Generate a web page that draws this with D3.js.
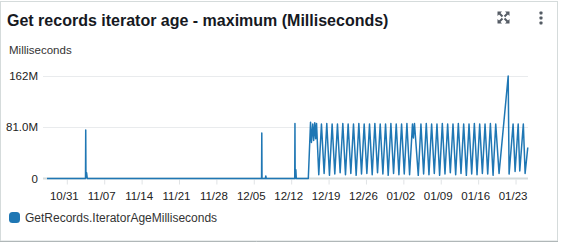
<!DOCTYPE html>
<html>
<head>
<meta charset="utf-8">
<script src="https://cdn.jsdelivr.net/npm/d3@7"></script>
<style>
  body { margin: 0; background: #fff; font-family: "Liberation Sans", Arial, sans-serif; }
  svg { display: block; }
</style>
</head>
<body>
<div id="chart"></div>
<script>
/* global d3 */

// Data (iterator age, millions of ms)
let times = [
    "2019-10-27 07:00", "2019-11-03 12:00", "2019-11-03 13:00", "2019-11-03 14:00", "2019-11-03 17:00", "2019-11-03 20:00",
    "2019-12-06 11:00", "2019-12-06 12:00", "2019-12-06 13:00", "2019-12-07 04:00", "2019-12-07 06:00", "2019-12-07 08:00",
    "2019-12-12 16:00", "2019-12-12 17:00", "2019-12-12 18:00", "2019-12-12 21:00", "2019-12-12 23:00",
    "2019-12-15 05:00", "2019-12-15 15:00", "2019-12-15 19:00", "2019-12-16 01:00", "2019-12-16 05:00", "2019-12-16 10:00", "2019-12-16 14:00", "2019-12-16 18:00",
    "2019-12-17 04:00", "2019-12-17 16:00", "2019-12-18 04:00", "2019-12-18 16:00", "2019-12-19 04:00", "2019-12-19 16:00",
    "2019-12-20 04:00", "2019-12-20 16:00", "2019-12-21 04:00", "2019-12-21 16:00", "2019-12-22 04:00", "2019-12-22 16:00",
    "2019-12-23 04:00", "2019-12-23 16:00", "2019-12-24 04:00", "2019-12-24 16:00", "2019-12-25 04:00", "2019-12-25 16:00",
    "2019-12-26 04:00", "2019-12-26 16:00", "2019-12-27 04:00", "2019-12-27 16:00", "2019-12-28 04:00", "2019-12-28 16:00",
    "2019-12-29 04:00", "2019-12-29 16:00", "2019-12-30 04:00", "2019-12-30 16:00", "2019-12-31 04:00", "2019-12-31 16:00",
    "2020-01-01 04:00", "2020-01-01 16:00", "2020-01-02 04:00", "2020-01-02 16:00", "2020-01-03 04:00",
    "2020-01-03 17:00", "2020-01-03 21:00", "2020-01-04 02:00", "2020-01-04 08:00", "2020-01-04 19:00",
    "2020-01-05 07:00", "2020-01-05 19:00", "2020-01-06 07:00", "2020-01-06 19:00", "2020-01-07 07:00", "2020-01-07 19:00",
    "2020-01-08 07:00", "2020-01-08 19:00", "2020-01-09 07:00", "2020-01-09 19:00", "2020-01-10 07:00", "2020-01-10 19:00",
    "2020-01-11 07:00", "2020-01-11 19:00", "2020-01-12 07:00", "2020-01-12 19:00", "2020-01-13 07:00", "2020-01-13 19:00",
    "2020-01-14 07:00", "2020-01-14 19:00", "2020-01-15 07:00", "2020-01-15 19:00", "2020-01-16 07:00", "2020-01-16 19:00",
    "2020-01-17 07:00", "2020-01-17 19:00", "2020-01-18 07:00", "2020-01-18 19:00", "2020-01-19 07:00", "2020-01-19 22:00",
    "2020-01-21 15:00", "2020-01-21 19:00", "2020-01-22 13:00", "2020-01-22 22:00", "2020-01-23 12:00", "2020-01-23 19:00",
    "2020-01-24 11:00", "2020-01-24 19:00", "2020-01-25 07:00"
];

let ageMillions = [
    0, 0, 76.5, 2, 9, 0,
    0, 72, 0, 0, 4, 0,
    0, 87, 0, 14, 0,
    0, 89, 57, 86, 60, 88, 63, 87,
    6, 86, 8, 87, 5, 86,
    7, 86, 9, 87, 6, 86,
    8, 86, 5, 87, 7, 86,
    8, 86, 6, 87, 9, 86,
    7, 86, 5, 87, 8, 86,
    6, 86, 7, 87, 6,
    86, 64, 87, 58, 5,
    86, 7, 87, 6, 86, 8,
    86, 5, 87, 7, 86, 9,
    86, 6, 87, 8, 86, 5,
    86, 7, 87, 6, 86, 8,
    86, 7, 87, 5, 86, 8,
    162, 7, 86, 11, 86, 12,
    86, 8, 49
];

let domainStart = "2019-10-27 07:00";
let domainEnd = "2020-01-25 08:00";

let tickDates = ["2019-10-31", "2019-11-07", "2019-11-14", "2019-11-21", "2019-11-28", "2019-12-05",
    "2019-12-12", "2019-12-19", "2019-12-26", "2020-01-02", "2020-01-09", "2020-01-16", "2020-01-23"];

let yTicks = [0, 81, 162];
let yTickLabels = ["0", "81.0M", "162M"];

let seriesName = "GetRecords.IteratorAgeMilliseconds";
let lineColor = "#1f77b4";

// Chart setup //

let SVGwidth = 563,
SVGheight = 243,
margin = {top: 76, right: 35, bottom: 65, left: 47},
width = SVGwidth - margin.left - margin.right,
height = 178.5 - margin.top;

let parseTime = d3.timeParse("%Y-%m-%d %H:%M");
let parseDay = d3.timeParse("%Y-%m-%d");
let fmtDay = d3.timeFormat("%m/%d");

let data = times.map(function(t, i) {
    return {date: parseTime(t), value: ageMillions[i]};
});

let svg = d3.select("#chart").append("svg")
    .attr("width", SVGwidth)
    .attr("height", SVGheight);

// panel frame
svg.append("rect")
    .attr("x", 0.5)
    .attr("y", 1.5)
    .attr("width", 557)
    .attr("height", 239.5)
    .style("fill", "#fff")
    .style("stroke", "#d5dbdb");

svg.append("line")
    .attr("x1", 0).attr("x2", 558)
    .attr("y1", 241.5).attr("y2", 241.5)
    .style("stroke", "#b0b7b8");

svg.append("text")
    .attr("x", 7)
    .attr("y", 26)
    .style("font-size", "16px")
    .style("font-weight", "bold")
    .style("fill", "#16191f")
    .text("Get records iterator age - maximum (Milliseconds)");

// expand icon: four arrows pointing out to the corners
let icon = svg.append("g")
    .attr("transform", "translate(503.5,17.5)")
    .style("fill", "#545b64")
    .style("stroke", "#545b64");
[[-1, -1], [1, -1], [-1, 1], [1, 1]].forEach(function(s) {
    icon.append("path")
        .attr("d", "M" + (s[0] * 1) + "," + (s[1] * 1) + "L" + (s[0] * 4) + "," + (s[1] * 4))
        .style("stroke-width", 2)
        .style("fill", "none");
    icon.append("path")
        .attr("d", "M" + (s[0] * 6) + "," + (s[1] * 6) + "L" + (s[0] * 1.5) + "," + (s[1] * 6) + "L" + (s[0] * 6) + "," + (s[1] * 1.5) + "Z")
        .style("stroke", "none");
});

// menu dots
svg.selectAll(".dot")
    .data([13, 18, 23])
    .enter().append("rect")
    .attr("class", "dot")
    .attr("x", 539.5)
    .attr("y", function(d) { return d - 1.5; })
    .attr("width", 3)
    .attr("height", 3)
    .attr("rx", 0.8)
    .style("fill", "#545b64");

svg.append("text")
    .attr("x", 9)
    .attr("y", 54)
    .style("font-size", "11.5px")
    .style("fill", "#333")
    .text("Milliseconds");

let xScale = d3.scaleTime()
    .domain([parseTime(domainStart), parseTime(domainEnd)])
    .range([margin.left, margin.left + width]);

let yScale = d3.scaleLinear()
    .domain([0, 162])
    .range([178.5, margin.top]);

// grid lines
svg.selectAll(".grid")
    .data(yTicks.slice(1))
    .enter().append("line")
    .attr("class", "grid")
    .attr("x1", 43)
    .attr("x2", margin.left + width)
    .attr("y1", function(d) { return Math.round(yScale(d)) + 0.5; })
    .attr("y2", function(d) { return Math.round(yScale(d)) + 0.5; })
    .style("stroke", "#e9ebed");

svg.append("line")
    .attr("x1", 43)
    .attr("x2", margin.left + width)
    .attr("y1", yScale(0))
    .attr("y2", yScale(0))
    .style("stroke", "#d5dbdb")
    .style("stroke-width", 2);

let xAxis = d3.axisBottom(xScale)
    .tickValues(tickDates.map(parseDay))
    .tickFormat(fmtDay)
    .tickSizeInner(5)
    .tickSizeOuter(0)
    .tickPadding(7);

let gx = svg.append("g")
    .attr("class", "xAxis")
    .attr("transform", "translate(0," + 179.5 + ")")
    .call(xAxis);
gx.select(".domain").remove();
gx.selectAll(".tick line").style("stroke", "#e0e3e5");
gx.selectAll(".tick text")
    .attr("dx", -3)
    .style("font-family", "Liberation Sans, Arial, sans-serif")
    .style("font-size", "11.5px")
    .style("fill", "#222");

let yAxis = d3.axisLeft(yScale)
    .tickValues(yTicks)
    .tickFormat(function(d, i) { return yTickLabels[i]; })
    .tickSize(0)
    .tickPadding(9);

let gy = svg.append("g")
    .attr("class", "yAxis")
    .attr("transform", "translate(" + margin.left + ",0)")
    .call(yAxis);
gy.select(".domain").remove();
gy.selectAll(".tick text")
    .style("font-family", "Liberation Sans, Arial, sans-serif")
    .style("font-size", "11.5px")
    .style("fill", "#222");

let line = d3.line()
    .x(function(d) { return xScale(d.date); })
    .y(function(d) { return yScale(d.value); });

svg.append("path")
    .datum(data)
    .attr("d", line)
    .style("fill", "none")
    .style("stroke", lineColor)
    .style("stroke-width", 1.5)
    .style("stroke-linejoin", "round");

// legend
let legend = svg.append("g")
    .attr("transform", "translate(9,212)");

legend.append("rect")
    .attr("width", 11)
    .attr("height", 11)
    .attr("rx", 3.5)
    .style("fill", lineColor);

legend.append("text")
    .attr("x", 16)
    .attr("y", 10)
    .style("font-size", "12px")
    .style("fill", "#333")
    .text(seriesName);
</script>
</body>
</html>
